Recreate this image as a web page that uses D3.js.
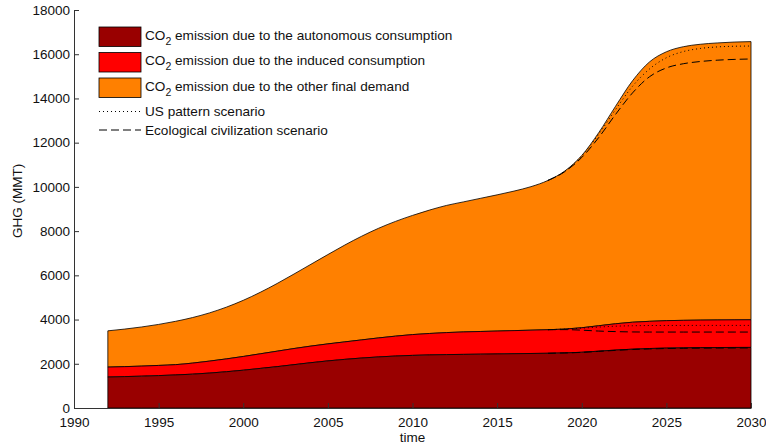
<!DOCTYPE html>
<html>
<head>
<meta charset="utf-8">
<script src="https://cdn.jsdelivr.net/npm/d3@7"></script>
<style>
  body { margin: 0; background: #fff; }
  svg { font-family: "Liberation Sans", Arial, sans-serif; }
</style>
</head>
<body>
<div id="chartContainer"></div>
<script>
const years = d3.range(1992, 2031);

// stacked layer tops (MMT)
const autonomousTop = [1400, 1420, 1440, 1465, 1495, 1530, 1580, 1640, 1710, 1790, 1870, 1960, 2050, 2130, 2200, 2260, 2310, 2350, 2380, 2400,
  2415, 2425, 2435, 2445, 2455, 2465, 2475, 2490, 2520, 2570, 2620, 2660, 2690, 2710, 2722, 2730, 2735, 2738, 2740];
const inducedTop = [1850, 1870, 1895, 1925, 1960, 2030, 2120, 2220, 2330, 2450, 2570, 2690, 2800, 2900, 2990, 3080, 3170, 3250, 3320, 3370,
  3410, 3440, 3460, 3480, 3500, 3520, 3540, 3570, 3630, 3720, 3810, 3880, 3920, 3950, 3965, 3975, 3982, 3987, 3990];
const totalTop = [3490, 3570, 3665, 3780, 3920, 4090, 4300, 4560, 4870, 5230, 5630, 6060, 6500, 6940, 7370, 7770, 8130, 8440, 8710, 8950,
  9160, 9320, 9480, 9640, 9810, 10010, 10290, 10720, 11420, 12450, 13650, 14800, 15650, 16110, 16340, 16450, 16510, 16550, 16570];

// scenario lines 2018-2030
const scenYears = d3.range(2018, 2031);
const usTotal = [10290, 10710, 11400, 12380, 13500, 14550, 15330, 15840, 16120, 16260, 16330, 16360, 16370];
const usInduced = [3540, 3570, 3610, 3660, 3700, 3720, 3730, 3733, 3734, 3735, 3735, 3735, 3735];
const ecoTotal = [10290, 10690, 11330, 12230, 13280, 14250, 14980, 15380, 15570, 15670, 15730, 15765, 15785];
const ecoInduced = [3540, 3545, 3520, 3480, 3455, 3440, 3435, 3435, 3435, 3435, 3435, 3435, 3435];
const ecoAutonomous = [2475, 2490, 2515, 2560, 2605, 2645, 2670, 2690, 2700, 2706, 2710, 2713, 2715];

const xTicks = d3.range(1990, 2031, 5);
const yTicks = d3.range(0, 18001, 2000);

const layerNames = [
  "emission due to the autonomous consumption",
  "emission due to the induced consumption",
  "emission due to the other final demand"
];
const colors = ["#990000", "#ff0000", "#ff8000"];

const data = years.map((yr, i) => ({
  year: yr,
  autonomous: autonomousTop[i],
  induced: inducedTop[i] - autonomousTop[i],
  other: totalTop[i] - inducedTop[i]
}));
const keys = ["autonomous", "induced", "other"];

const width = 766, height = 447;
const margin = { top: 10, right: 15, bottom: 39, left: 74 };

const svg = d3.select("#chartContainer").append("svg")
  .attr("width", width).attr("height", height);

const x = d3.scaleLinear().domain([1990, 2030]).range([margin.left, width - margin.right]);
const y = d3.scaleLinear().domain([0, 18000]).range([height - margin.bottom, margin.top]);

const stack = d3.stack().keys(keys);
const series = stack(data);

const area = d3.area()
  .x(d => x(d.data.year))
  .y0(d => y(d[0]))
  .y1(d => y(d[1]))
  .curve(d3.curveMonotoneX);

svg.append("g").selectAll("path")
  .data(series.slice().reverse())
  .enter().append("path")
  .attr("d", area)
  .attr("fill", d => colors[keys.indexOf(d.key)])
  .attr("stroke", "#000")
  .attr("stroke-width", 0.8);

const line = d3.line()
  .x(d => x(d[0]))
  .y(d => y(d[1]))
  .curve(d3.curveMonotoneX);

const dotted = "1,3", dashed = "8,4";
const scen = [
  { vals: usTotal, dash: dotted },
  { vals: usInduced, dash: dotted },
  { vals: ecoTotal, dash: dashed },
  { vals: ecoInduced, dash: dashed },
  { vals: ecoAutonomous, dash: dashed }
];
scen.forEach(s => {
  svg.append("path")
    .attr("d", line(scenYears.map((yr, i) => [yr, s.vals[i]])))
    .attr("fill", "none")
    .attr("stroke", "#000")
    .attr("stroke-width", 1)
    .attr("stroke-dasharray", s.dash);
});

// axes, matlab style with inward ticks
const axisColor = "#333";
const xAxis = svg.append("g").attr("transform", `translate(0,${y(0)})`)
  .call(d3.axisBottom(x).tickValues(xTicks).tickFormat(d3.format("d")).tickSizeInner(-5).tickSizeOuter(0).tickPadding(9));
const yAxis = svg.append("g").attr("transform", `translate(${x(1990)},0)`)
  .call(d3.axisLeft(y).tickValues(yTicks).tickFormat(d3.format("d")).tickSizeInner(-5).tickSizeOuter(0).tickPadding(9));
[xAxis, yAxis].forEach(a => {
  a.select(".domain").attr("stroke", axisColor);
  a.selectAll(".tick line").attr("stroke", axisColor);
  a.selectAll("text").attr("font-size", 13.5).attr("fill", "#111")
    .attr("font-family", "'Liberation Sans', Arial, sans-serif");
});
yAxis.selectAll("text").attr("dx", 5);

svg.append("text")
  .attr("x", (x(1990) + x(2030)) / 2).attr("y", 442)
  .attr("text-anchor", "middle").attr("font-size", 13.5).attr("fill", "#111")
  .text("time");

svg.append("text")
  .attr("transform", "translate(22,201) rotate(-90)")
  .attr("text-anchor", "middle").attr("font-size", 13.5).attr("fill", "#111")
  .text("GHG (MMT)");

// legend
const legend = svg.append("g");
layerNames.forEach((name, i) => {
  const ly = 27 + i * 25.5;
  legend.append("rect")
    .attr("x", 99).attr("y", ly).attr("width", 42).attr("height", 19.5)
    .attr("fill", colors[i]).attr("stroke", "#000").attr("stroke-width", 0.8);
  const t = legend.append("text")
    .attr("x", 145).attr("y", ly + 12.5).attr("font-size", 13.6).attr("fill", "#111");
  t.append("tspan").text("CO");
  t.append("tspan").attr("dy", 5).attr("font-size", 10.5).text("2");
  t.append("tspan").attr("dy", -5).text(" " + name);
});
[["US pattern scenario", dotted, 111.5], ["Ecological civilization scenario", dashed, 130]].forEach(([label, dash, ly]) => {
  legend.append("line")
    .attr("x1", 99).attr("x2", 141).attr("y1", ly).attr("y2", ly)
    .attr("stroke", "#000").attr("stroke-dasharray", dash);
  legend.append("text")
    .attr("x", 145).attr("y", ly + 4.5).attr("font-size", 13.6).attr("fill", "#111")
    .text(label);
});
</script>
</body>
</html>
